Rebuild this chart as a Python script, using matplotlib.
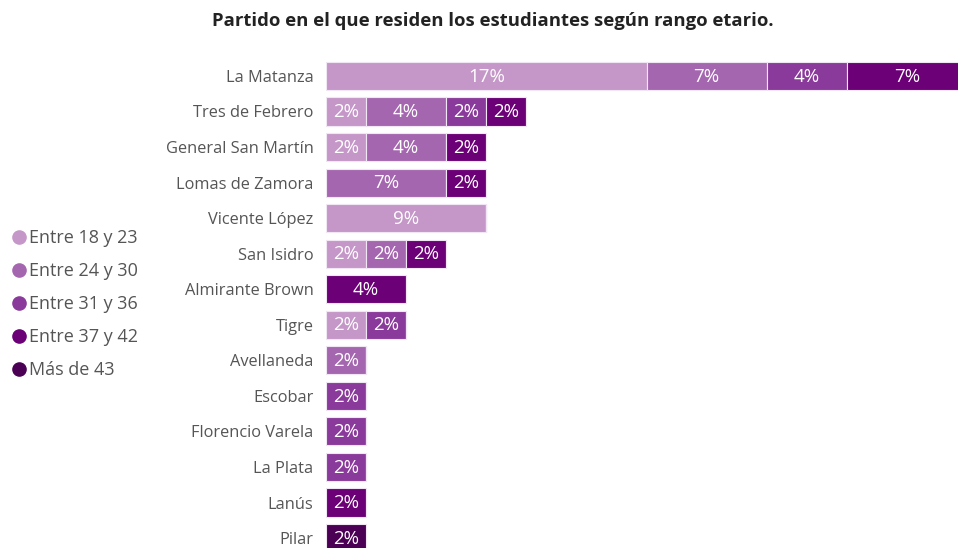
import matplotlib
matplotlib.use("Agg")
import matplotlib.pyplot as plt
from matplotlib.lines import Line2D
import numpy as np

plt.rcParams['font.family'] = ['Open Sans', 'DejaVu Sans']

categories = ["La Matanza", "Tres de Febrero", "General San Martín", "Lomas de Zamora",
              "Vicente López", "San Isidro", "Almirante Brown", "Tigre", "Avellaneda",
              "Escobar", "Florencio Varela", "La Plata", "Lanús", "Pilar"]
series_names = ["Entre 18 y 23", "Entre 24 y 30", "Entre 31 y 36", "Entre 37 y 42", "Más de 43"]
colors = ["#c497c8", "#a566b0", "#8a3a9a", "#6b0077", "#4b0055"]

s18_23 = [17.39, 2.17, 2.17, 0, 8.70, 2.17, 0, 2.17, 0, 0, 0, 0, 0, 0]
s24_30 = [6.52, 4.35, 4.35, 6.52, 0, 2.17, 0, 0, 2.17, 0, 0, 0, 0, 0]
s31_36 = [4.35, 2.17, 0, 0, 0, 0, 0, 2.17, 0, 2.17, 2.17, 2.17, 0, 0]
s37_42 = [6.52, 2.17, 2.17, 2.17, 0, 2.17, 4.35, 0, 0, 0, 0, 0, 2.17, 0]
s43 = [0, 0, 0, 0, 0, 0, 0, 0, 0, 0, 0, 0, 0, 2.17]
series = [s18_23, s24_30, s31_36, s37_42, s43]

W, H = 958, 548
fig = plt.figure(figsize=(W / 100, H / 100), dpi=100)
ax = fig.add_axes([326 / W, 0, 1 - 326 / W, 1 - 50 / H])

y = np.arange(len(categories))
left = np.zeros(len(categories))
for name, vals, c in zip(series_names, series, colors):
    vals = np.array(vals)
    ax.barh(y, vals, left=left, height=0.79, color=c, edgecolor="#f1e6f4",
            linewidth=0.8, label=name)
    for yi, (l, v) in enumerate(zip(left, vals)):
        if v > 0:
            ax.text(l + v / 2, yi + 0.02, f"{v:.0f}%", ha="center", va="center",
                    color="white", fontsize=13.5, clip_on=True)
    left = left + vals

px_per_unit = 40 / 2.17
ax.set_xlim(0, (W - 326) / px_per_unit)
ax.set_ylim(13.28, -0.73)
ax.set_yticks(y)
ax.set_yticklabels(categories, fontsize=11.8, color="#555555")
ax.tick_params(axis="y", length=0, pad=9)
ax.set_xticks([])
for sp in ax.spines.values():
    sp.set_visible(False)

handles = [Line2D([], [], marker="o", linestyle="", color=c, markersize=9.5) for c in colors]
fig.legend(handles, series_names, loc="upper left", bbox_to_anchor=(0.0, 1 - 224 / H),
           frameon=False, fontsize=13, labelcolor="#555555", handletextpad=-0.2,
           labelspacing=0.83, borderpad=0.3, handlelength=1.5, borderaxespad=0)

fig.text(493 / W, 1 - 21 / H, "Partido en el que residen los estudiantes según rango etario.",
         ha="center", va="center", fontsize=13.3, fontweight="bold", color="#222222")

fig.savefig("out.png", dpi=100)
